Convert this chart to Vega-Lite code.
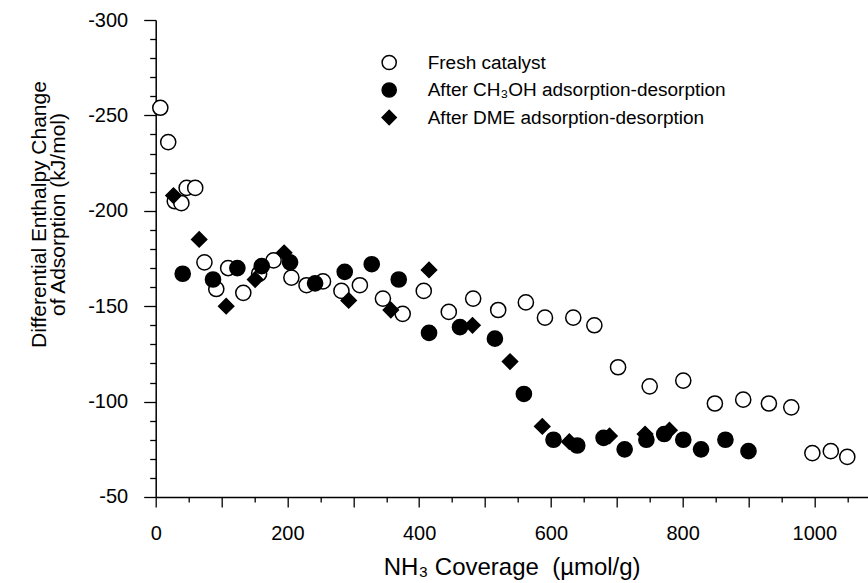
{
  "$schema": "https://vega.github.io/schema/vega-lite/v6.json",
  "width": 712,
  "height": 477,
  "autosize": {"type": "none"},
  "padding": {"left": 155.7, "top": 20, "right": 0, "bottom": 86},
  "background": "white",
  "config": {
    "view": {"stroke": null},
    "font": "Liberation Sans",
    "axis": {"domainColor": "black", "domainWidth": 1.5, "ticks": true, "tickColor": "black", "tickWidth": 1.3, "tickOpacity": 1, "grid": false, "zindex": 1, "labelColor": "black", "titleColor": "black", "labelFont": "Liberation Sans", "titleFont": "Liberation Sans", "labelFontWeight": "normal", "titleFontWeight": "normal", "labelOverlap": false, "labelFlush": false, "labelBound": false}
  },
  "data": {
    "values": [
      {"series": "Fresh catalyst", "x": 7, "y": -254},
      {"series": "Fresh catalyst", "x": 19, "y": -236},
      {"series": "Fresh catalyst", "x": 29, "y": -205},
      {"series": "Fresh catalyst", "x": 39, "y": -204},
      {"series": "Fresh catalyst", "x": 47, "y": -212},
      {"series": "Fresh catalyst", "x": 60, "y": -212},
      {"series": "Fresh catalyst", "x": 74, "y": -173},
      {"series": "Fresh catalyst", "x": 92, "y": -159},
      {"series": "Fresh catalyst", "x": 110, "y": -170},
      {"series": "Fresh catalyst", "x": 133, "y": -157},
      {"series": "Fresh catalyst", "x": 157, "y": -167},
      {"series": "Fresh catalyst", "x": 179, "y": -174},
      {"series": "Fresh catalyst", "x": 206, "y": -165},
      {"series": "Fresh catalyst", "x": 229, "y": -161},
      {"series": "Fresh catalyst", "x": 254, "y": -163},
      {"series": "Fresh catalyst", "x": 282, "y": -158},
      {"series": "Fresh catalyst", "x": 310, "y": -161},
      {"series": "Fresh catalyst", "x": 345, "y": -154},
      {"series": "Fresh catalyst", "x": 375, "y": -146},
      {"series": "Fresh catalyst", "x": 407, "y": -158},
      {"series": "Fresh catalyst", "x": 445, "y": -147},
      {"series": "Fresh catalyst", "x": 482, "y": -154},
      {"series": "Fresh catalyst", "x": 520, "y": -148},
      {"series": "Fresh catalyst", "x": 562, "y": -152},
      {"series": "Fresh catalyst", "x": 591, "y": -144},
      {"series": "Fresh catalyst", "x": 634, "y": -144},
      {"series": "Fresh catalyst", "x": 666, "y": -140},
      {"series": "Fresh catalyst", "x": 702, "y": -118},
      {"series": "Fresh catalyst", "x": 750, "y": -108},
      {"series": "Fresh catalyst", "x": 801, "y": -111},
      {"series": "Fresh catalyst", "x": 849, "y": -99},
      {"series": "Fresh catalyst", "x": 892, "y": -101},
      {"series": "Fresh catalyst", "x": 931, "y": -99},
      {"series": "Fresh catalyst", "x": 965, "y": -97},
      {"series": "Fresh catalyst", "x": 997, "y": -73},
      {"series": "Fresh catalyst", "x": 1025, "y": -74},
      {"series": "Fresh catalyst", "x": 1050, "y": -71},
      {"series": "After DME adsorption-desorption", "x": 27, "y": -208},
      {"series": "After DME adsorption-desorption", "x": 66, "y": -185},
      {"series": "After DME adsorption-desorption", "x": 107, "y": -150},
      {"series": "After DME adsorption-desorption", "x": 151, "y": -164},
      {"series": "After DME adsorption-desorption", "x": 195, "y": -178},
      {"series": "After DME adsorption-desorption", "x": 293, "y": -153},
      {"series": "After DME adsorption-desorption", "x": 357, "y": -148},
      {"series": "After DME adsorption-desorption", "x": 415, "y": -169},
      {"series": "After DME adsorption-desorption", "x": 481, "y": -140},
      {"series": "After DME adsorption-desorption", "x": 538, "y": -121},
      {"series": "After DME adsorption-desorption", "x": 587, "y": -87},
      {"series": "After DME adsorption-desorption", "x": 628, "y": -79},
      {"series": "After DME adsorption-desorption", "x": 689, "y": -82},
      {"series": "After DME adsorption-desorption", "x": 743, "y": -83},
      {"series": "After DME adsorption-desorption", "x": 780, "y": -85},
      {"series": "After CH₃OH adsorption-desorption", "x": 41, "y": -167},
      {"series": "After CH₃OH adsorption-desorption", "x": 87, "y": -164},
      {"series": "After CH₃OH adsorption-desorption", "x": 124, "y": -170},
      {"series": "After CH₃OH adsorption-desorption", "x": 161, "y": -171},
      {"series": "After CH₃OH adsorption-desorption", "x": 204, "y": -173},
      {"series": "After CH₃OH adsorption-desorption", "x": 242, "y": -162},
      {"series": "After CH₃OH adsorption-desorption", "x": 287, "y": -168},
      {"series": "After CH₃OH adsorption-desorption", "x": 328, "y": -172},
      {"series": "After CH₃OH adsorption-desorption", "x": 369, "y": -164},
      {"series": "After CH₃OH adsorption-desorption", "x": 415, "y": -136},
      {"series": "After CH₃OH adsorption-desorption", "x": 462, "y": -139},
      {"series": "After CH₃OH adsorption-desorption", "x": 515, "y": -133},
      {"series": "After CH₃OH adsorption-desorption", "x": 559, "y": -104},
      {"series": "After CH₃OH adsorption-desorption", "x": 604, "y": -80},
      {"series": "After CH₃OH adsorption-desorption", "x": 640, "y": -77},
      {"series": "After CH₃OH adsorption-desorption", "x": 680, "y": -81},
      {"series": "After CH₃OH adsorption-desorption", "x": 712, "y": -75},
      {"series": "After CH₃OH adsorption-desorption", "x": 745, "y": -80},
      {"series": "After CH₃OH adsorption-desorption", "x": 772, "y": -83},
      {"series": "After CH₃OH adsorption-desorption", "x": 801, "y": -80},
      {"series": "After CH₃OH adsorption-desorption", "x": 828, "y": -75},
      {"series": "After CH₃OH adsorption-desorption", "x": 865, "y": -80},
      {"series": "After CH₃OH adsorption-desorption", "x": 900, "y": -74}
    ]
  },
  "mark": {"type": "point", "filled": true, "strokeWidth": 1.5, "opacity": 1, "size": 230},
  "encoding": {
    "x": {
      "field": "x", "type": "quantitative",
      "scale": {"domain": [0, 1081], "nice": false, "zero": false},
      "axis": {
        "values": [0, 50, 100, 150, 200, 250, 300, 350, 400, 450, 500, 550, 600, 650, 700, 750, 800, 850, 900, 950, 1000, 1050],
        "tickSize": {"condition": {"test": "datum.value % 100 === 0", "value": 10}, "value": 5},
        "labelExpr": "datum.value % 200 === 0 ? '' + datum.value : ''",
        "labelFontSize": 20,
        "labelPadding": 17,
        "title": "NH₃ Coverage\u00a0 (µmol/g)",
        "titleFontSize": 24,
        "titleBaseline": "alphabetic",
        "titleY": 78
      }
    },
    "y": {
      "field": "y", "type": "quantitative",
      "scale": {"domain": [-300, -50], "nice": false, "zero": false, "reverse": true},
      "axis": {
        "values": [-300, -290, -280, -270, -260, -250, -240, -230, -220, -210, -200, -190, -180, -170, -160, -150, -140, -130, -120, -110, -100, -90, -80, -70, -60, -50],
        "tickSize": {"condition": {"test": "datum.value % 50 === 0", "value": 12}, "value": 6},
        "labelExpr": "datum.value % 50 === 0 ? '' + datum.value : ''",
        "labelFontSize": 20,
        "labelPadding": 16,
        "title": ["Differential Enthalpy Change", "of Adsorption (kJ/mol)"],
        "titleFontSize": 21,
        "titleLineHeight": 19,
        "titleAngle": -90,
        "titleAlign": "center",
        "titleBaseline": "top",
        "titleX": -127,
        "titleY": 194
      }
    },
    "shape": {
      "field": "series", "type": "nominal",
      "scale": {"domain": ["Fresh catalyst", "After CH₃OH adsorption-desorption", "After DME adsorption-desorption"], "range": ["circle", "circle", "diamond"]},
      "legend": {"title": null, "orient": "none", "legendX": 224, "legendY": 33, "padding": 0, "labelFontSize": 19, "labelFont": "Liberation Sans", "labelColor": "black", "labelOffset": 29, "rowPadding": 6.5, "symbolSize": 200, "symbolStrokeWidth": 1.5, "labelLimit": 500}
    },
    "fill": {
      "field": "series", "type": "nominal",
      "scale": {"domain": ["Fresh catalyst", "After CH₃OH adsorption-desorption", "After DME adsorption-desorption"], "range": ["white", "black", "black"]},
      "legend": {"title": null, "orient": "none", "legendX": 224, "legendY": 33, "padding": 0, "labelFontSize": 19, "labelFont": "Liberation Sans", "labelColor": "black", "labelOffset": 29, "rowPadding": 6.5, "symbolSize": 200, "symbolStrokeWidth": 1.5, "labelLimit": 500}
    },
    "stroke": {
      "field": "series", "type": "nominal",
      "scale": {"domain": ["Fresh catalyst", "After CH₃OH adsorption-desorption", "After DME adsorption-desorption"], "range": ["black", "black", "black"]},
      "legend": {"title": null, "orient": "none", "legendX": 224, "legendY": 33, "padding": 0, "labelFontSize": 19, "labelFont": "Liberation Sans", "labelColor": "black", "labelOffset": 29, "rowPadding": 6.5, "symbolSize": 200, "symbolStrokeWidth": 1.5, "labelLimit": 500}
    }
  }
}
